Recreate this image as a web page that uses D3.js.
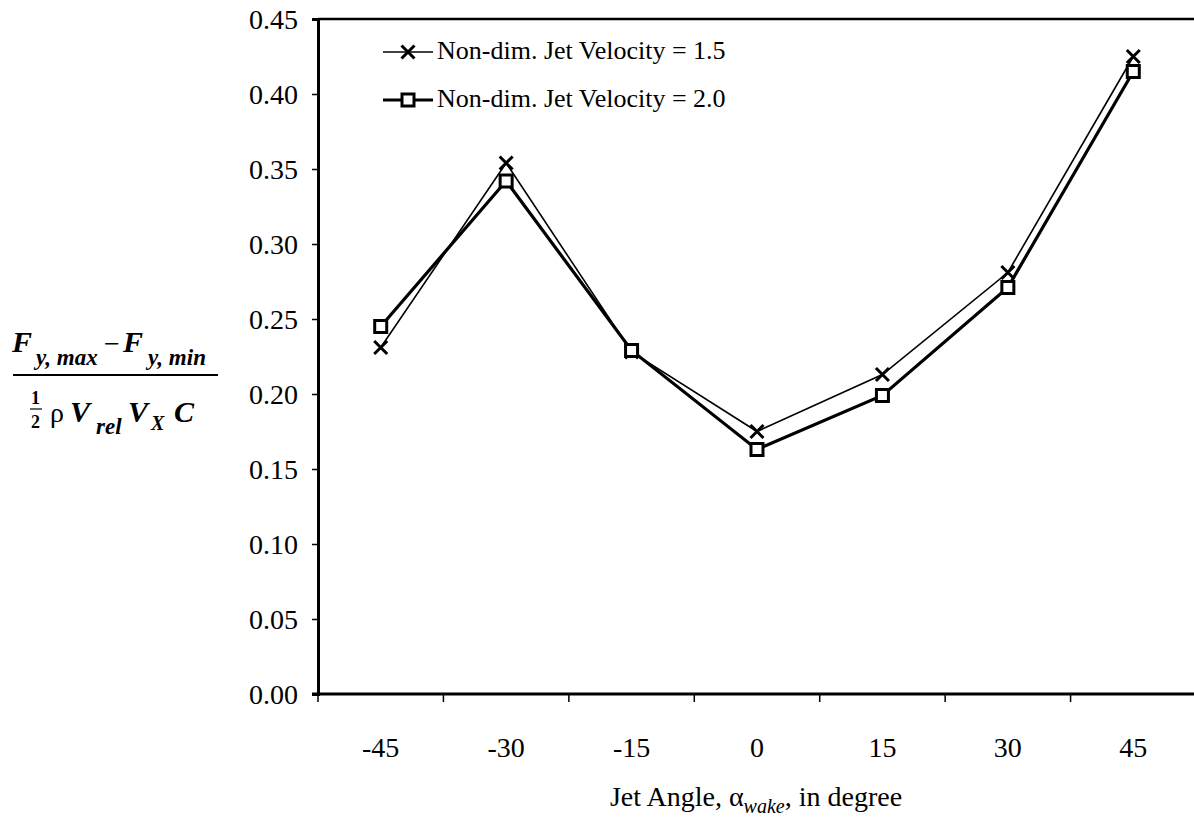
<!DOCTYPE html>
<html>
<head>
<meta charset="utf-8">
<script src="https://cdn.jsdelivr.net/npm/d3@7"></script>
<style>
  html, body { margin: 0; padding: 0; background: #fff; }
  svg { display: block; }
  text { font-family: "Liberation Serif", "DejaVu Serif", serif; fill: #000; }
</style>
</head>
<body>
<svg id="chart" width="1194" height="818"></svg>
<script>
// Jet angle categories (degrees)
const angles = ["-45", "-30", "-15", "0", "15", "30", "45"];
// Normalised force amplitude for each jet velocity
const velocity15 = [0.231, 0.354, 0.228, 0.175, 0.213, 0.281, 0.425];
const velocity20 = [0.245, 0.342, 0.229, 0.163, 0.199, 0.271, 0.415];
const yTicks = [0.00, 0.05, 0.10, 0.15, 0.20, 0.25, 0.30, 0.35, 0.40, 0.45];
const seriesNames = ["Non-dim. Jet Velocity = 1.5", "Non-dim. Jet Velocity = 2.0"];

const serif = '"Liberation Serif", "DejaVu Serif", serif';
const svg = d3.select("#chart");
const plot = { left: 318, top: 19, right: 1196, bottom: 694 };

const x = d3.scaleBand().domain(angles).range([plot.left, plot.right]);
const y = d3.scaleLinear().domain([0, 0.45]).range([plot.bottom, plot.top]);

// Top edge of the plot frame
svg.append("line")
  .attr("x1", plot.left).attr("x2", plot.right)
  .attr("y1", plot.top).attr("y2", plot.top)
  .attr("stroke", "#000").attr("stroke-width", 2.5);

// Y axis
const yAxis = svg.append("g")
  .attr("transform", `translate(${plot.left},0)`)
  .call(d3.axisLeft(y).tickValues(yTicks).tickFormat(d3.format(".2f")).tickSize(6).tickPadding(14));
yAxis.attr("font-family", serif);
yAxis.select(".domain").attr("stroke-width", 3);
yAxis.selectAll(".tick line").attr("stroke-width", 1.5);
yAxis.selectAll(".tick text").style("font-family", serif).style("font-size", "28px").attr("dy", "0.34em");

// X axis: ticks at category boundaries, labels at band centres
const xAxisG = svg.append("g").attr("transform", `translate(0,${plot.bottom})`);
xAxisG.append("line")
  .attr("x1", plot.left - 6).attr("x2", plot.right)
  .attr("stroke", "#000").attr("stroke-width", 3);
xAxisG.selectAll(".btick")
  .data(angles)
  .join("line")
  .attr("class", "btick")
  .attr("x1", d => x(d)).attr("x2", d => x(d))
  .attr("y1", 0).attr("y2", 8)
  .attr("stroke", "#000").attr("stroke-width", 1.5);
xAxisG.selectAll(".xlab")
  .data(angles)
  .join("text")
  .attr("class", "xlab")
  .attr("x", d => x(d) + x.bandwidth() / 2)
  .attr("y", 63)
  .attr("text-anchor", "middle")
  .style("font-size", "28px")
  .text(d => d);

// X axis title
const xt = svg.append("text")
  .attr("x", 756).attr("y", 806)
  .attr("text-anchor", "middle")
  .style("font-size", "28px");
xt.append("tspan").text("Jet Angle, α");
xt.append("tspan").attr("font-style", "italic").style("font-size", "20px").attr("dy", 7).text("wake");
xt.append("tspan").attr("dy", -7).text(", in degree");

// Y axis title, drawn as a fraction
const yl = svg.append("g");
function piece(txt, px, py, size, italic, bold) {
  yl.append("text")
    .attr("x", px).attr("y", py)
    .style("font-size", size + "px")
    .style("font-style", italic ? "italic" : "normal")
    .style("font-weight", bold ? "bold" : "normal")
    .text(txt);
}
// numerator
piece("F", 12, 352, 30, true, true);
piece("y, max", 36, 365, 23, true, true);
piece("−", 104, 353, 28, false, false);
piece("F", 123, 352, 30, true, true);
piece("y, min", 148, 365, 23, true, true);
// fraction bar
yl.append("line").attr("x1", 13).attr("x2", 218).attr("y1", 375).attr("y2", 375)
  .attr("stroke", "#000").attr("stroke-width", 2.2);
// denominator
piece("1", 31, 404, 18, false, true);
yl.append("line").attr("x1", 30).attr("x2", 42).attr("y1", 409).attr("y2", 409)
  .attr("stroke", "#000").attr("stroke-width", 1.2);
piece("2", 31, 428, 18, false, true);
piece("ρ", 50, 422, 28, false, false);
piece("V", 70, 422, 30, true, true);
piece("rel", 96, 434, 23, true, true);
piece("V", 128, 422, 30, true, true);
piece("X", 151, 430, 20, true, true);
piece("C", 174, 422, 30, true, true);

// Series lines
const cx = i => x(angles[i]) + x.bandwidth() / 2;
const line = d3.line().x((d, i) => cx(i)).y(d => y(d));

svg.append("path").datum(velocity15).attr("d", line)
  .attr("fill", "none").attr("stroke", "#000").attr("stroke-width", 1.6);
svg.append("path").datum(velocity20).attr("d", line)
  .attr("fill", "none").attr("stroke", "#000").attr("stroke-width", 3.2);

// Markers
function crossMarker(g, px, py) {
  const s = 6.5;
  g.append("path")
    .attr("d", `M${px - s},${py - s}L${px + s},${py + s}M${px - s},${py + s}L${px + s},${py - s}`)
    .attr("stroke", "#000").attr("stroke-width", 3).attr("fill", "none");
}
function squareMarker(g, px, py) {
  const s = 6;
  g.append("rect")
    .attr("x", px - s).attr("y", py - s).attr("width", 2 * s).attr("height", 2 * s)
    .attr("fill", "#fff").attr("stroke", "#000").attr("stroke-width", 3);
}
const marks = svg.append("g");
velocity15.forEach((v, i) => crossMarker(marks, cx(i), y(v)));
velocity20.forEach((v, i) => squareMarker(marks, cx(i), y(v)));

// Legend
const legend = svg.append("g");
const legendRows = [
  { name: seriesNames[0], width: 1.6, marker: crossMarker, yy: 52 },
  { name: seriesNames[1], width: 3.2, marker: squareMarker, yy: 100 }
];
legendRows.forEach(r => {
  legend.append("line").attr("x1", 383).attr("x2", 433).attr("y1", r.yy).attr("y2", r.yy)
    .attr("stroke", "#000").attr("stroke-width", r.width);
  r.marker(legend, 408, r.yy);
  legend.append("text").attr("x", 437).attr("y", r.yy + 7).style("font-size", "26px").text(r.name);
});
</script>
</body>
</html>
